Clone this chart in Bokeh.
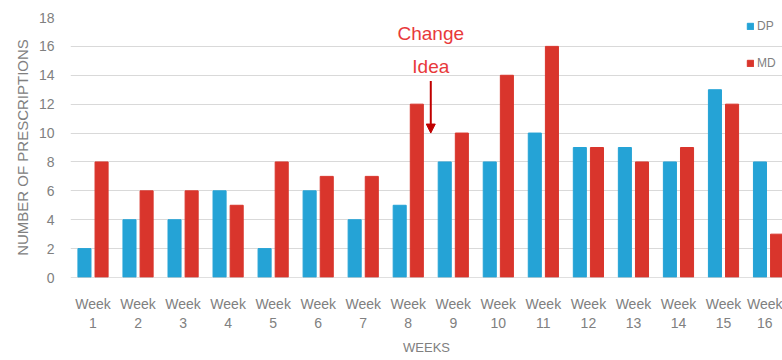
from bokeh.plotting import figure
from bokeh.models import (ColumnDataSource, Range1d, Legend, LegendItem, Arrow,
                          NormalHead, Label, FixedTicker, Span)
from bokeh.transform import dodge
from bokeh.embed import file_html
from bokeh.resources import INLINE

weeks = list(range(1, 17))
week_labels = [f"Week\n{w}" for w in weeks]
dp = [2, 4, 4, 6, 2, 6, 4, 5, 8, 8, 10, 9, 9, 8, 13, 8]
md = [8, 6, 6, 5, 8, 7, 7, 12, 10, 14, 16, 9, 8, 9, 12, 3]
y_ticks = list(range(0, 19, 2))
change_week = 8.5
change_text = ["Change", "Idea"]

BLUE = "#25a3d6"
RED = "#d9352c"
GRAY = "#808080"
FONT = "Liberation Sans"

src = ColumnDataSource(dict(week=weeks, dp=dp, md=md))

p = figure(width=782, height=360, output_backend="svg", toolbar_location=None,
           x_range=Range1d(0.5, 16.31), y_range=Range1d(0, 18),
           min_border_left=70, min_border_right=0, min_border_top=17,
           min_border_bottom=83)
p.outline_line_color = None
p.background_fill_color = "white"

r_dp = p.vbar(x=dodge("week", -0.19, range=p.x_range), top="dp", width=0.29,
              source=src, color=BLUE)
r_md = p.vbar(x=dodge("week", 0.19, range=p.x_range), top="md", width=0.29,
              source=src, color=RED)

p.xgrid.grid_line_color = None
p.ygrid.grid_line_color = "#d9d9d9"
p.ygrid.ticker = FixedTicker(ticks=y_ticks)
p.add_layout(Span(location=0, dimension="width", line_color="#bfbfbf", line_width=1))

p.yaxis.ticker = FixedTicker(ticks=y_ticks)
p.yaxis.axis_line_color = None
p.yaxis.major_tick_line_color = None
p.yaxis.minor_tick_line_color = None
p.yaxis.major_label_text_color = GRAY
p.yaxis.major_label_text_font = FONT
p.yaxis.major_label_text_font_size = "14px"
p.yaxis.major_label_standoff = 10
p.yaxis.axis_label = "NUMBER OF PRESCRIPTIONS"
p.yaxis.axis_label_text_font = FONT
p.yaxis.axis_label_text_font_style = "normal"
p.yaxis.axis_label_text_font_size = "15px"
p.yaxis.axis_label_text_color = GRAY

p.xaxis.ticker = FixedTicker(ticks=weeks)
p.xaxis.major_label_overrides = {w: lab for w, lab in zip(weeks, week_labels)}
p.xaxis.axis_line_color = None
p.xaxis.major_tick_line_color = None
p.xaxis.minor_tick_line_color = None
p.xaxis.major_label_text_color = GRAY
p.xaxis.major_label_text_font = FONT
p.xaxis.major_label_text_font_size = "14px"
p.xaxis.major_label_standoff = 12
p.xaxis.axis_label = "WEEKS"
p.xaxis.axis_label_text_font = FONT
p.xaxis.axis_label_text_font_style = "normal"
p.xaxis.axis_label_text_font_size = "13px"
p.xaxis.axis_label_text_color = GRAY
p.xaxis.axis_label_standoff = 6

# Change idea annotation
p.add_layout(Label(x=change_week, y=16.9, text=change_text[0], text_align="center",
                   text_baseline="middle", text_color="#e8393a", text_font=FONT,
                   text_font_size="19px"))
p.add_layout(Label(x=change_week, y=14.6, text=change_text[1], text_align="center",
                   text_baseline="middle", text_color="#e8393a", text_font=FONT,
                   text_font_size="19px"))
p.add_layout(Arrow(x_start=change_week, y_start=13.6, x_end=change_week, y_end=10.0,
                   line_color="#c00000", line_width=2,
                   end=NormalHead(size=9, fill_color="#c00000", line_color="#c00000")))

legend = Legend(items=[LegendItem(label="DP", renderers=[r_dp]),
                       LegendItem(label="MD", renderers=[r_md])],
                location=(676, 204), orientation="vertical",
                glyph_width=8, glyph_height=8, label_height=20, spacing=17,
                padding=0, margin=0, border_line_color=None,
                background_fill_alpha=0, label_text_font=FONT,
                label_text_font_size="12px", label_text_color=GRAY,
                label_standoff=3)
p.add_layout(legend, "center")

open("out.html", "w").write(file_html(p, INLINE))
